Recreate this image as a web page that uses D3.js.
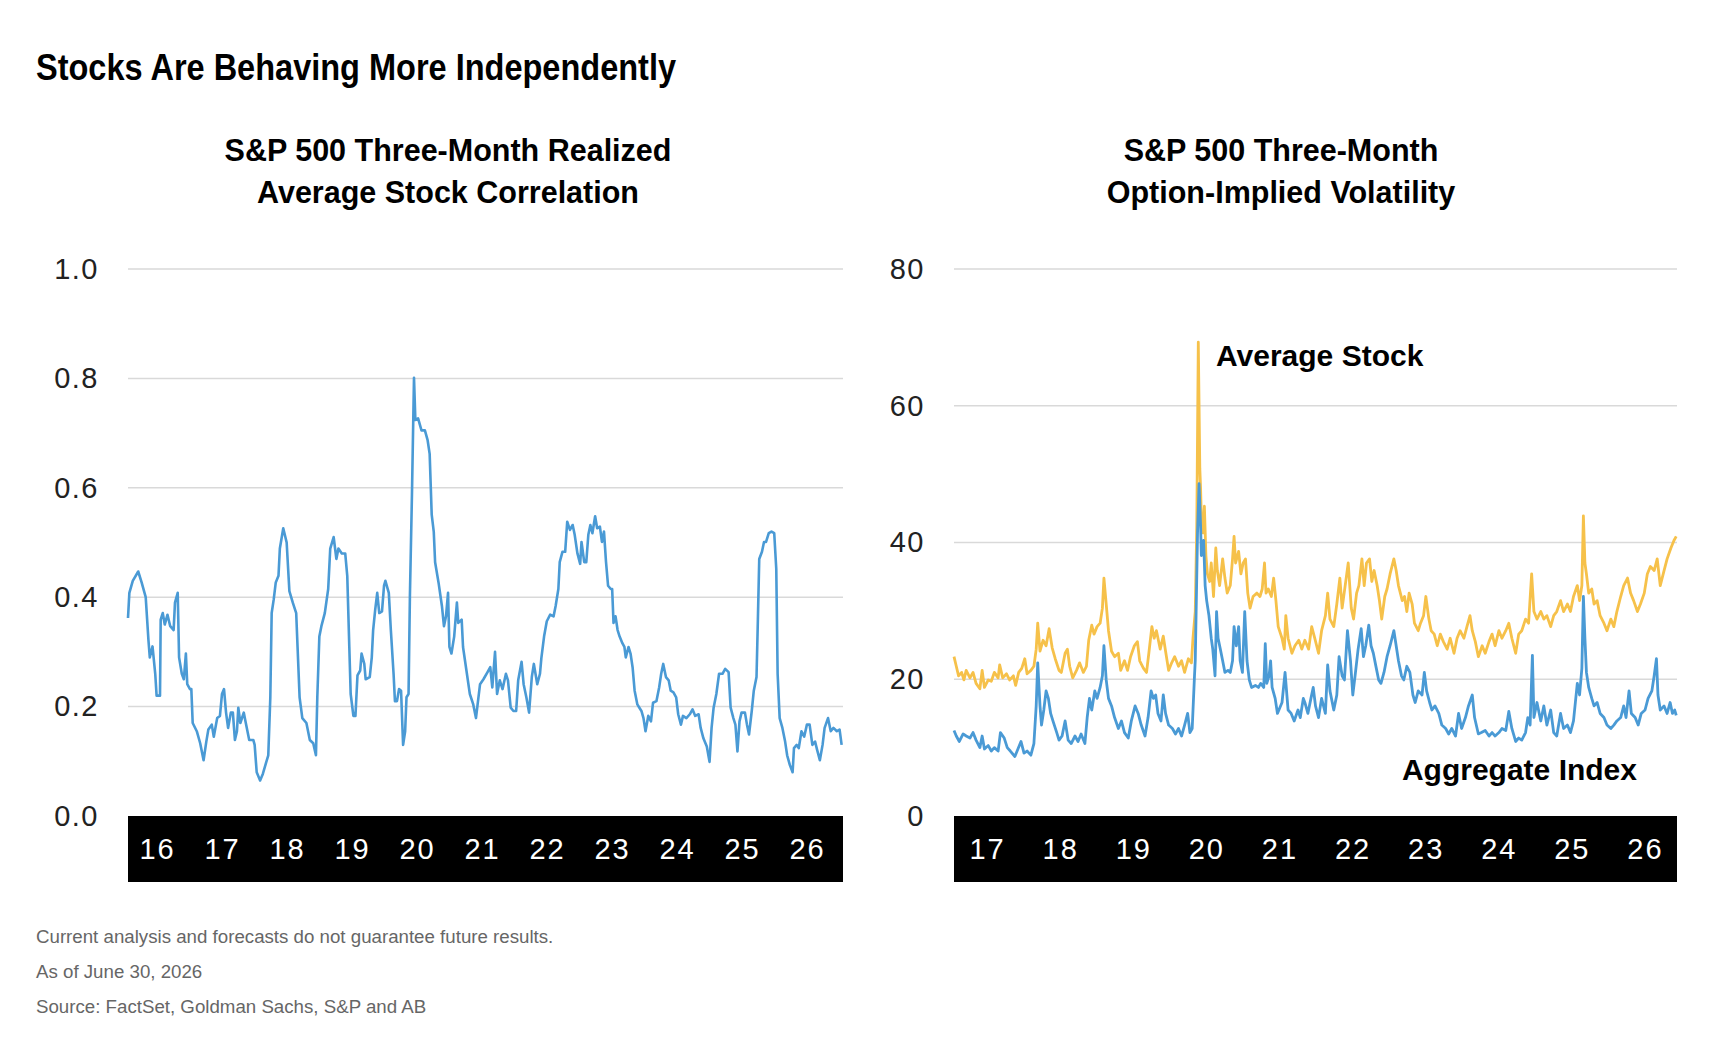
<!DOCTYPE html>
<html>
<head>
<meta charset="utf-8">
<script src="https://cdn.jsdelivr.net/npm/d3@7"></script>
<style>
  body { margin: 0; background: #fff; }
  text { font-family: "Liberation Sans", Arial, sans-serif; }
</style>
</head>
<body>
<svg id="chart" width="1734" height="1056"></svg>
<script>
/* S&P 500 three-month realized average stock correlation (dates as decimal years) */
const corrYears = [2016.00,2016.02,2016.07,2016.15,2016.20,2016.26,2016.30,2016.32,2016.36,2016.40,2016.42,2016.47,2016.48,2016.51,2016.54,2016.58,2016.62,2016.67,2016.69,2016.73,2016.75,2016.79,2016.82,2016.85,2016.87,2016.91,2016.93,2016.95,2017.01,2017.06,2017.11,2017.15,2017.18,2017.23,2017.26,2017.31,2017.35,2017.38,2017.41,2017.44,2017.47,2017.51,2017.54,2017.57,2017.60,2017.62,2017.65,2017.70,2017.73,2017.78,2017.84,2017.86,2017.89,2017.94,2017.98,2018.01,2018.06,2018.09,2018.11,2018.14,2018.17,2018.21,2018.23,2018.28,2018.33,2018.37,2018.42,2018.47,2018.49,2018.52,2018.56,2018.62,2018.67,2018.72,2018.76,2018.78,2018.81,2018.84,2018.89,2018.94,2018.97,2019.02,2019.06,2019.09,2019.14,2019.19,2019.22,2019.25,2019.27,2019.31,2019.34,2019.37,2019.41,2019.43,2019.47,2019.49,2019.55,2019.58,2019.60,2019.63,2019.66,2019.69,2019.73,2019.76,2019.78,2019.83,2019.86,2019.90,2019.92,2019.95,2019.98,2020.01,2020.04,2020.07,2020.09,2020.12,2020.14,2020.17,2020.20,2020.22,2020.26,2020.31,2020.36,2020.40,2020.43,2020.46,2020.49,2020.51,2020.56,2020.61,2020.64,2020.67,2020.70,2020.72,2020.75,2020.79,2020.83,2020.85,2020.90,2020.92,2020.97,2021.02,2021.07,2021.11,2021.17,2021.22,2021.28,2021.32,2021.35,2021.39,2021.42,2021.46,2021.50,2021.55,2021.58,2021.62,2021.66,2021.70,2021.73,2021.78,2021.81,2021.85,2021.89,2021.93,2021.96,2022.01,2022.05,2022.07,2022.11,2022.15,2022.20,2022.25,2022.28,2022.32,2022.34,2022.38,2022.42,2022.45,2022.49,2022.53,2022.56,2022.60,2022.64,2022.66,2022.70,2022.73,2022.76,2022.79,2022.82,2022.86,2022.89,2022.93,2022.96,2022.99,2023.02,2023.05,2023.09,2023.11,2023.13,2023.16,2023.19,2023.22,2023.26,2023.29,2023.31,2023.35,2023.38,2023.41,2023.44,2023.48,2023.51,2023.54,2023.57,2023.60,2023.64,2023.68,2023.71,2023.76,2023.80,2023.83,2023.86,2023.90,2023.94,2023.97,2024.01,2024.05,2024.08,2024.12,2024.15,2024.20,2024.25,2024.29,2024.33,2024.38,2024.41,2024.45,2024.50,2024.54,2024.57,2024.60,2024.64,2024.68,2024.73,2024.77,2024.82,2024.85,2024.89,2024.92,2024.95,2024.98,2025.01,2025.06,2025.09,2025.12,2025.16,2025.19,2025.23,2025.25,2025.27,2025.31,2025.34,2025.37,2025.41,2025.45,2025.49,2025.52,2025.54,2025.57,2025.61,2025.65,2025.68,2025.72,2025.76,2025.78,2025.82,2025.85,2025.89,2025.93,2025.97,2026.01,2026.05,2026.09,2026.12,2026.16,2026.20,2026.23,2026.28,2026.32,2026.36,2026.41,2026.45,2026.48];
const corrValues = [0.362,0.408,0.43,0.447,0.427,0.40,0.322,0.29,0.31,0.26,0.22,0.22,0.359,0.371,0.35,0.368,0.347,0.34,0.39,0.408,0.29,0.26,0.25,0.297,0.241,0.232,0.232,0.17,0.155,0.133,0.102,0.136,0.158,0.167,0.145,0.179,0.183,0.223,0.232,0.189,0.161,0.189,0.189,0.139,0.155,0.198,0.17,0.189,0.17,0.139,0.139,0.13,0.08,0.065,0.077,0.09,0.111,0.217,0.371,0.396,0.427,0.439,0.489,0.526,0.50,0.411,0.39,0.371,0.309,0.217,0.179,0.17,0.139,0.133,0.111,0.217,0.328,0.347,0.371,0.415,0.489,0.51,0.47,0.489,0.48,0.48,0.439,0.309,0.223,0.183,0.183,0.257,0.266,0.297,0.278,0.25,0.254,0.29,0.34,0.377,0.408,0.371,0.374,0.421,0.43,0.408,0.34,0.26,0.21,0.21,0.232,0.229,0.13,0.155,0.217,0.223,0.402,0.588,0.801,0.724,0.727,0.705,0.705,0.687,0.662,0.551,0.52,0.464,0.427,0.384,0.347,0.365,0.408,0.309,0.297,0.328,0.39,0.353,0.359,0.309,0.266,0.223,0.204,0.179,0.241,0.25,0.263,0.272,0.235,0.30,0.223,0.248,0.232,0.26,0.248,0.198,0.192,0.192,0.248,0.282,0.241,0.217,0.189,0.254,0.278,0.241,0.26,0.288,0.328,0.356,0.368,0.365,0.384,0.415,0.464,0.483,0.483,0.538,0.523,0.532,0.514,0.48,0.461,0.501,0.464,0.464,0.514,0.532,0.517,0.548,0.526,0.529,0.501,0.52,0.464,0.421,0.415,0.415,0.353,0.365,0.34,0.328,0.316,0.309,0.29,0.309,0.297,0.272,0.229,0.204,0.198,0.192,0.179,0.155,0.183,0.173,0.207,0.21,0.235,0.26,0.278,0.254,0.248,0.229,0.226,0.217,0.186,0.167,0.183,0.179,0.186,0.195,0.183,0.186,0.161,0.142,0.127,0.099,0.161,0.198,0.223,0.26,0.26,0.269,0.263,0.198,0.179,0.167,0.118,0.173,0.189,0.189,0.167,0.149,0.192,0.229,0.254,0.359,0.47,0.483,0.501,0.501,0.517,0.52,0.517,0.452,0.26,0.179,0.161,0.136,0.111,0.093,0.08,0.124,0.13,0.124,0.155,0.145,0.167,0.167,0.13,0.136,0.121,0.102,0.13,0.161,0.179,0.155,0.161,0.155,0.158,0.13];

/* three-month option-implied volatility: average stock */
const stockYears = [2017.00,2017.03,2017.06,2017.10,2017.13,2017.16,2017.21,2017.25,2017.29,2017.34,2017.37,2017.40,2017.45,2017.49,2017.53,2017.58,2017.60,2017.64,2017.69,2017.73,2017.78,2017.81,2017.85,2017.89,2017.93,2017.96,2018.01,2018.05,2018.08,2018.10,2018.13,2018.17,2018.21,2018.25,2018.29,2018.33,2018.38,2018.41,2018.46,2018.49,2018.52,2018.56,2018.61,2018.65,2018.70,2018.74,2018.77,2018.81,2018.84,2018.88,2018.92,2018.95,2018.97,2019.00,2019.03,2019.07,2019.11,2019.16,2019.19,2019.24,2019.28,2019.32,2019.37,2019.41,2019.44,2019.49,2019.53,2019.56,2019.60,2019.63,2019.66,2019.71,2019.75,2019.78,2019.82,2019.86,2019.90,2019.95,2019.99,2020.03,2020.08,2020.12,2020.14,2020.17,2020.19,2020.21,2020.23,2020.24,2020.25,2020.27,2020.29,2020.31,2020.33,2020.36,2020.38,2020.41,2020.44,2020.46,2020.49,2020.53,2020.56,2020.59,2020.63,2020.66,2020.68,2020.70,2020.74,2020.77,2020.80,2020.83,2020.86,2020.89,2020.93,2020.98,2021.02,2021.05,2021.08,2021.10,2021.13,2021.17,2021.20,2021.23,2021.26,2021.31,2021.34,2021.36,2021.39,2021.44,2021.48,2021.53,2021.57,2021.61,2021.66,2021.70,2021.74,2021.79,2021.83,2021.88,2021.91,2021.94,2021.99,2022.03,2022.07,2022.10,2022.14,2022.18,2022.22,2022.25,2022.29,2022.32,2022.36,2022.39,2022.42,2022.46,2022.49,2022.52,2022.56,2022.59,2022.62,2022.66,2022.69,2022.73,2022.78,2022.81,2022.84,2022.89,2022.92,2022.95,2022.98,2023.02,2023.05,2023.10,2023.13,2023.17,2023.20,2023.24,2023.27,2023.31,2023.35,2023.39,2023.43,2023.48,2023.52,2023.57,2023.61,2023.65,2023.70,2023.74,2023.78,2023.81,2023.85,2023.89,2023.94,2023.98,2024.03,2024.07,2024.11,2024.16,2024.20,2024.25,2024.29,2024.33,2024.38,2024.42,2024.46,2024.51,2024.55,2024.59,2024.62,2024.66,2024.71,2024.75,2024.79,2024.84,2024.88,2024.92,2024.97,2025.01,2025.06,2025.10,2025.14,2025.19,2025.22,2025.25,2025.27,2025.29,2025.31,2025.34,2025.38,2025.41,2025.45,2025.49,2025.54,2025.58,2025.63,2025.67,2025.71,2025.76,2025.80,2025.85,2025.89,2025.93,2025.98,2026.02,2026.07,2026.11,2026.15,2026.20,2026.24,2026.28,2026.33,2026.37,2026.42,2026.46,2026.49];
const stockVol = [23.3,21.9,20.5,21.0,19.9,21.3,20.2,21.0,19.4,18.6,21.3,18.8,19.9,19.7,21.0,20.2,22.1,20.2,20.8,19.9,20.5,19.1,21.0,21.6,23.0,20.8,21.3,21.9,24.4,28.2,24.1,25.7,24.9,27.4,24.6,23.0,21.3,21.0,23.8,24.4,21.9,20.2,21.3,22.4,21.0,21.9,25.7,27.9,26.6,27.7,28.2,30.4,34.8,31.0,27.1,24.1,23.3,23.8,21.3,22.7,21.3,23.3,24.9,25.5,22.7,21.6,21.0,23.8,27.7,26.0,27.1,24.4,26.3,24.1,21.3,22.4,23.3,21.9,22.7,21.0,23.0,22.4,26.0,29.9,42.5,69.3,50.8,48.0,43.6,41.4,45.3,38.1,35.4,34.3,37.0,32.1,39.2,35.9,33.7,37.6,34.8,32.6,33.7,37.6,40.9,37.0,38.7,35.4,37.0,37.6,32.6,30.4,32.1,32.6,32.1,33.2,37.0,32.6,33.2,32.1,34.8,31.5,27.7,26.0,24.4,29.3,26.0,23.8,24.9,25.7,24.4,25.7,24.4,27.7,26.0,23.8,27.1,29.3,32.6,28.8,27.7,31.0,34.8,30.4,33.7,37.0,30.4,28.8,32.6,33.7,37.6,33.7,37.0,37.6,34.3,35.9,33.7,31.5,28.8,32.1,33.2,35.4,37.6,35.9,33.7,31.5,32.1,29.9,32.6,31.0,28.2,27.1,28.2,29.3,32.1,28.8,27.1,26.6,24.9,26.6,25.5,24.4,26.0,23.8,26.0,27.1,26.0,27.7,29.3,27.1,25.5,23.3,24.9,23.8,25.5,26.6,24.9,27.1,26.0,27.1,28.2,26.0,23.8,26.6,27.1,28.8,28.2,35.4,29.9,28.8,29.9,28.8,29.3,27.7,29.3,29.9,31.5,29.9,31.0,29.9,32.1,33.7,31.5,33.7,43.9,37.0,35.4,32.6,33.2,31.0,31.5,29.3,28.2,27.1,28.8,27.7,29.9,32.1,33.7,34.8,32.6,31.5,29.9,31.0,32.6,35.4,36.5,35.9,37.6,33.7,35.9,37.6,39.2,40.3,40.9];

/* three-month option-implied volatility: aggregate index */
const indexYears = [2017.00,2017.03,2017.07,2017.12,2017.16,2017.21,2017.25,2017.29,2017.34,2017.37,2017.40,2017.45,2017.49,2017.53,2017.58,2017.61,2017.66,2017.70,2017.74,2017.80,2017.84,2017.88,2017.92,2017.96,2018.01,2018.05,2018.08,2018.10,2018.13,2018.15,2018.18,2018.21,2018.24,2018.27,2018.30,2018.35,2018.38,2018.42,2018.46,2018.50,2018.54,2018.59,2018.63,2018.67,2018.72,2018.75,2018.78,2018.81,2018.85,2018.88,2018.92,2018.95,2018.97,2019.00,2019.03,2019.07,2019.11,2019.16,2019.20,2019.24,2019.29,2019.33,2019.38,2019.42,2019.46,2019.51,2019.55,2019.59,2019.62,2019.65,2019.68,2019.72,2019.75,2019.78,2019.82,2019.87,2019.91,2019.95,2019.99,2020.03,2020.07,2020.10,2020.13,2020.16,2020.17,2020.20,2020.22,2020.24,2020.25,2020.28,2020.30,2020.32,2020.35,2020.38,2020.40,2020.43,2020.45,2020.47,2020.50,2020.53,2020.56,2020.60,2020.63,2020.66,2020.68,2020.71,2020.74,2020.76,2020.79,2020.82,2020.85,2020.88,2020.91,2020.96,2021.00,2021.03,2021.07,2021.09,2021.11,2021.14,2021.16,2021.18,2021.22,2021.25,2021.28,2021.31,2021.35,2021.39,2021.43,2021.47,2021.52,2021.55,2021.59,2021.61,2021.65,2021.69,2021.72,2021.75,2021.79,2021.83,2021.88,2021.91,2021.94,2021.99,2022.03,2022.06,2022.10,2022.13,2022.17,2022.21,2022.24,2022.27,2022.31,2022.35,2022.38,2022.41,2022.45,2022.48,2022.51,2022.54,2022.58,2022.61,2022.65,2022.69,2022.73,2022.78,2022.81,2022.84,2022.88,2022.91,2022.95,2022.99,2023.03,2023.06,2023.10,2023.15,2023.18,2023.21,2023.25,2023.28,2023.32,2023.37,2023.41,2023.46,2023.50,2023.54,2023.59,2023.63,2023.67,2023.72,2023.76,2023.81,2023.84,2023.89,2023.93,2023.98,2024.03,2024.07,2024.11,2024.16,2024.20,2024.25,2024.29,2024.33,2024.38,2024.42,2024.46,2024.51,2024.54,2024.57,2024.60,2024.62,2024.66,2024.71,2024.75,2024.79,2024.84,2024.88,2024.92,2024.97,2025.01,2025.06,2025.10,2025.14,2025.19,2025.22,2025.25,2025.27,2025.29,2025.31,2025.34,2025.38,2025.41,2025.45,2025.49,2025.54,2025.58,2025.63,2025.67,2025.71,2025.76,2025.80,2025.83,2025.87,2025.90,2025.95,2025.99,2026.03,2026.08,2026.12,2026.17,2026.20,2026.23,2026.25,2026.28,2026.33,2026.37,2026.41,2026.44,2026.47,2026.49];
const indexVol = [12.5,11.7,10.9,12.0,11.7,11.4,12.2,11.1,10.0,11.7,9.8,10.3,9.5,10.0,9.5,12.2,11.4,10.0,9.5,8.7,9.8,10.9,9.2,9.5,8.9,10.6,16.1,22.4,16.1,13.3,15.5,18.3,17.2,15.0,13.9,12.2,11.1,11.7,13.9,11.1,10.6,11.7,10.9,12.0,10.6,14.4,17.2,15.5,18.3,17.2,18.8,20.5,24.9,19.9,17.2,16.1,14.4,12.8,13.9,12.2,11.4,13.9,16.1,15.0,13.3,11.7,14.4,18.3,17.2,17.7,15.0,13.9,17.7,15.0,13.3,12.8,12.0,12.8,11.7,13.3,15.0,12.2,12.8,20.5,22.7,41.4,48.6,42.5,38.1,40.3,33.7,31.5,29.3,26.0,24.4,20.5,29.9,26.0,24.4,22.7,21.0,21.3,21.0,22.7,27.7,24.9,27.7,22.7,21.0,29.9,22.7,19.9,18.8,19.1,18.8,19.4,18.8,25.2,19.4,20.5,22.7,18.8,17.2,15.0,15.8,16.6,21.0,15.5,15.0,13.9,15.5,14.4,17.2,16.6,15.0,17.2,18.8,16.1,14.4,17.2,15.0,22.1,18.3,15.5,17.7,23.3,20.5,19.9,27.1,22.7,17.7,20.5,24.4,27.4,23.3,24.9,27.9,24.9,23.8,22.1,19.9,19.4,21.0,23.3,24.9,27.1,24.9,22.7,20.5,19.9,21.9,21.0,17.7,16.6,18.3,17.7,21.0,18.3,16.6,15.5,16.1,15.0,13.3,12.8,12.0,12.8,11.7,15.0,12.8,14.4,16.1,17.7,14.4,12.0,12.2,12.5,11.7,12.2,11.7,12.2,12.8,12.5,15.3,12.8,10.9,11.4,11.1,12.2,14.4,13.3,23.5,14.4,16.6,13.9,16.1,13.3,15.5,12.2,11.7,15.0,12.8,13.3,12.2,13.9,19.4,17.7,21.6,32.1,26.0,21.0,18.8,17.2,16.1,16.6,15.0,14.4,13.3,12.8,13.3,13.9,14.4,16.1,14.4,18.3,15.0,14.4,13.3,15.0,15.5,17.2,18.3,20.5,23.0,17.7,15.5,16.1,15.0,16.6,15.0,15.5,14.7];

/* axis labels */
const corrYearLabels = ["16","17","18","19","20","21","22","23","24","25","26"];
const volYearLabels = ["17","18","19","20","21","22","23","24","25","26"];
const corrTicks = [0, 0.2, 0.4, 0.6, 0.8, 1.0];
const volTicks = [0, 20, 40, 60, 80];

const BLUE = "#4a9ad5";
const GOLD = "#f6c14a";

const svg = d3.select("#chart");

/* titolo generale, carattere stretto come nell'originale */
svg.append("text")
    .attr("x", 36)
    .attr("y", 80)
    .attr("font-family", "'Liberation Sans Narrow', 'Liberation Sans', Arial, sans-serif")
    .attr("font-size", 36)
    .attr("font-weight", "bold")
    .attr("fill", "#000")
    .attr("textLength", 640)
    .attr("lengthAdjust", "spacingAndGlyphs")
    .text("Stocks Are Behaving More Independently");

/* disegna un pannello: griglia, banda nera degli anni, etichette y, linee */
function drawPanel(opt) {
    const g = svg.append("g");

    const x = d3.scaleLinear().domain(opt.xDomain).range([opt.left, opt.right]);
    const y = d3.scaleLinear().domain(opt.yDomain).range([816, 269]);
    const band = d3.scaleBand().domain(opt.yearLabels).range(opt.bandRange);

    // sottotitolo su due righe
    opt.subtitle.forEach((s, i) => {
        g.append("text")
            .attr("x", opt.subX)
            .attr("y", 161 + i * 42)
            .attr("text-anchor", "middle")
            .attr("font-size", 30.5)
            .attr("font-weight", "bold")
            .attr("fill", "#000")
            .text(s);
    });

    // linee della griglia (non sullo zero, coperto dalla banda)
    g.selectAll(".grid")
        .data(opt.ticks.filter(d => d !== 0))
        .enter()
        .append("line")
        .attr("class", "grid")
        .attr("x1", opt.left)
        .attr("x2", opt.right)
        .attr("y1", d => y(d))
        .attr("y2", d => y(d))
        .attr("stroke", "#d9d9d9")
        .attr("stroke-width", 1.5);

    // etichette asse y
    const yAxis = g.append("g")
        .attr("transform", `translate(${opt.labelRight},0)`)
        .call(d3.axisLeft(y).tickValues(opt.ticks).tickSize(0).tickPadding(0).tickFormat(opt.fmt));
    yAxis.select(".domain").remove();
    yAxis.selectAll("text")
        .attr("font-family", "Liberation Sans, Arial, sans-serif")
        .attr("font-size", 29)
        .attr("letter-spacing", 1.5)
        .attr("fill", "#222");

    // banda nera con gli anni
    g.append("rect")
        .attr("x", opt.left)
        .attr("y", y(0))
        .attr("width", opt.right - opt.left)
        .attr("height", 66)
        .attr("fill", "#000");

    const xAxis = g.append("g")
        .attr("transform", `translate(0,${y(0)})`)
        .call(d3.axisBottom(band).tickSize(0));
    xAxis.select(".domain").remove();
    xAxis.selectAll("text")
        .attr("y", 33)
        .attr("dy", "0.35em")
        .attr("font-family", "Liberation Sans, Arial, sans-serif")
        .attr("font-size", 29)
        .attr("letter-spacing", 2)
        .attr("fill", "#fff");

    // serie
    const line = d3.line()
        .x(d => x(d[0]))
        .y(d => y(d[1]));

    opt.series.forEach(s => {
        g.append("path")
            .datum(d3.zip(s.years, s.values))
            .attr("fill", "none")
            .attr("stroke", s.color)
            .attr("stroke-width", s.width)
            .attr("stroke-linejoin", "round")
            .attr("d", line);
    });

    return g;
}

drawPanel({
    left: 128, right: 843, labelRight: 99, bandRange: [125, 840],
    xDomain: [2016, 2026.5], yDomain: [0, 1],
    yearLabels: corrYearLabels, ticks: corrTicks, fmt: d3.format(".1f"),
    subX: 448,
    subtitle: ["S&P 500 Three-Month Realized", "Average Stock Correlation"],
    series: [{ years: corrYears, values: corrValues, color: BLUE, width: 2.6 }]
});

const volPanel = drawPanel({
    left: 954, right: 1677, labelRight: 925, bandRange: [951, 1682],
    xDomain: [2017, 2026.5], yDomain: [0, 80],
    yearLabels: volYearLabels, ticks: volTicks, fmt: d3.format("d"),
    subX: 1281,
    subtitle: ["S&P 500 Three-Month", "Option-Implied Volatility"],
    series: [
        { years: stockYears, values: stockVol, color: GOLD, width: 2.8 },
        { years: indexYears, values: indexVol, color: BLUE, width: 2.8 }
    ]
});

/* etichette delle serie */
volPanel.append("text")
    .attr("x", 1216)
    .attr("y", 366)
    .attr("font-size", 30)
    .attr("font-weight", "bold")
    .text("Average Stock");

volPanel.append("text")
    .attr("x", 1637)
    .attr("y", 780)
    .attr("text-anchor", "end")
    .attr("font-size", 30)
    .attr("font-weight", "bold")
    .text("Aggregate Index");

/* note a piè di pagina */
const notes = [
    "Current analysis and forecasts do not guarantee future results.",
    "As of June 30, 2026",
    "Source: FactSet, Goldman Sachs, S&P and AB"
];
svg.selectAll(".note")
    .data(notes)
    .enter()
    .append("text")
    .attr("class", "note")
    .attr("x", 36)
    .attr("y", (d, i) => 943 + i * 35)
    .attr("font-size", 18.7)
    .attr("fill", "#666")
    .text(d => d);
</script>
</body>
</html>
